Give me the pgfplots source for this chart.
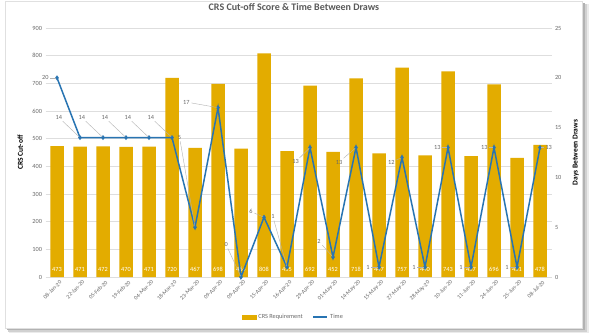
\documentclass[border=0pt]{standalone}
\usepackage{pgfplots}
\pgfplotsset{compat=1.18}
\usepackage{pgfplotstable}
\usepackage{fontspec}
\setmainfont{Carlito}
\definecolor{barcol}{RGB}{227,172,0}
\definecolor{linecol}{RGB}{40,116,178}
\definecolor{gridcol}{RGB}{222,222,222}
\definecolor{tickcol}{RGB}{105,105,105}
\definecolor{titlecol}{RGB}{89,89,89}
\newcommand{\tickfont}{\fontsize{6.3}{7}\selectfont}
\newcommand{\xtickfont}{\fontsize{5.8}{6.5}\selectfont}
\pgfplotstableread{
idx crs time ang dist
0 473 20 180 6
1 471 14 135 22
2 472 14 135 22
3 470 14 135 22
4 471 14 135 22
5 720 14 135 22
6 467 5 98 86
7 698 17 176 26
8 464 0 112 30
9 808 6 170 9
10 455 1 103 47
11 692 13 228 13
12 452 2 132 15
13 718 13 222 15
14 447 1 180 7
15 757 12 190 5
16 440 1 180 7
17 743 13 180 5
18 437 1 180 6
19 696 13 180 4
20 431 1 180 6
21 478 13 0 3
}\data
\begin{document}
\begin{tikzpicture}
\useasboundingbox (0pt,0pt) rectangle (591pt,333pt);
\fill[black!8] (9pt,0pt) rectangle (589pt,329pt);
\fill[black!18] (8pt,1.5pt) rectangle (587pt,329pt);
\fill[black!30] (7pt,3pt) rectangle (585pt,330pt);
\fill[white, draw=black!12] (5pt,5pt) rectangle (582pt,332pt);
\begin{axis}[
  at={(45.5pt,56pt)}, anchor=south west,
  scale only axis, width=506pt, height=249pt,
  xmin=-0.5, xmax=21.5, ymin=0, ymax=900,
  axis y line*=left, axis x line*=bottom,
  axis line style={draw=none},
  major tick length=0pt,
  ytick={0,100,...,900},
  ymajorgrids, grid style={gridcol, line width=0.5pt},
  xtick={0,...,21},
  xticklabels={08-Jan-20,22-Jan-20,05-Feb-20,19-Feb-20,04-Mar-20,18-Mar-20,23-Mar-20,09-Apr-20,09-Apr-20,15-Apr-20,16-Apr-20,29-Apr-20,01-May-20,14-May-20,15-May-20,27-May-20,28-May-20,10-Jun-20,11-Jun-20,24-Jun-20,25-Jun-20,08-Jul-20},
  xticklabel style={rotate=45, anchor=north east, font=\xtickfont, text=tickcol, inner sep=0.5pt, yshift=-3pt},
  yticklabel style={font=\tickfont, text=tickcol},
  /pgf/number format/assume math mode=true,
  ylabel={\textbf{CRS Cut-off}},
  ylabel style={at={(axis description cs:-0.05,0.5)}, anchor=center, font=\fontsize{7.5}{8}\selectfont},
  title={\textbf{CRS Cut-off Score \& Time Between Draws}},
  title style={at={(axis description cs:0.491,1)}, anchor=center, yshift=15pt, font=\fontsize{10}{12}\selectfont, text=titlecol},
  clip=false,
]
\addplot[ybar, bar width=13.5pt, fill=barcol, draw=none] table[x=idx, y=crs]{\data};
\addplot[draw=none, mark=none, nodes near coords, point meta=explicit symbolic,
  every node near coord/.style={anchor=center, yshift=8pt, text=white, font=\tickfont}]
  table[x=idx, y expr=0, meta=crs]{\data};
\end{axis}
\begin{axis}[
  at={(45.5pt,56pt)}, anchor=south west,
  scale only axis, width=506pt, height=249pt,
  xmin=-0.5, xmax=21.5, ymin=0, ymax=25,
  axis y line*=right, axis x line=none,
  axis line style={draw=none},
  major tick length=0pt,
  ytick={0,5,...,25},
  yticklabel style={font=\tickfont, text=tickcol},
  /pgf/number format/assume math mode=true,
  ylabel={\textbf{Days Between Draws}},
  ylabel style={at={(axis description cs:1.048,0.5)}, anchor=center, rotate=0, font=\fontsize{7.5}{8}\selectfont},
  legend style={at={(axis description cs:0.49,-0.16)}, anchor=center, draw=none, fill=none, legend columns=2, font=\tickfont, text=tickcol,
    /tikz/every even column/.append style={column sep=8pt}},
  clip=false,
]
\addlegendimage{legend image code/.code={\fill[barcol] (0pt,-2pt) rectangle (14pt,2pt);}}
\addlegendentry{CRS Requirement}
\addplot[linecol, line width=1.5pt, mark=diamond*, mark size=1.3pt,
  legend image code/.code={\draw[linecol, line width=1.5pt] (0pt,0pt) -- (14pt,0pt);},
  point meta=explicit symbolic,
  visualization depends on={\thisrow{ang}\as\pang},
  visualization depends on={\thisrow{dist}\as\pdist},
  nodes near coords={},
  every node near coord/.style={inner sep=0pt, minimum size=0pt, anchor=center,
    pin={[pin distance=\pdist pt, pin edge={gray!60, line width=0.4pt}, font=\tickfont, text=tickcol, inner sep=1pt]\pang:\pgfplotspointmeta}}]
  table[x=idx, y=time, meta=time]{\data};
\addlegendentry{Time}
\end{axis}
\end{tikzpicture}
\end{document}
